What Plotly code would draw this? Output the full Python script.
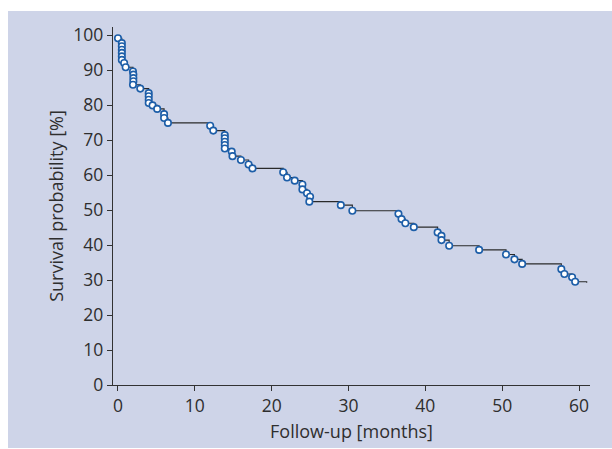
import plotly.graph_objects as go

# Kaplan-Meier style survival curve
months = [0.0, 0.5, 0.5, 0.5, 0.5, 0.5, 0.5, 0.8, 1.0,
          1.95, 2.0, 2.0, 2.0, 1.95, 2.9,
          4.0, 4.0, 4.0, 4.0, 4.5, 5.1, 6.0, 6.0, 6.5,
          12.0, 12.4, 13.9, 13.9, 13.9, 13.9, 13.9, 14.8, 14.9, 16.0, 17.0, 17.5,
          21.5, 22.0, 23.0, 24.0, 24.0, 24.6, 25.0, 24.9,
          29.0, 30.5,
          36.5, 36.9, 37.4, 38.5,
          41.6, 42.1, 42.1, 43.1,
          47.0, 50.5, 51.6, 52.6,
          57.7, 58.1, 59.1, 59.5]
survival = [99.1, 97.7, 96.8, 95.8, 94.9, 93.9, 92.9, 92.0, 90.8,
            89.6, 88.7, 87.7, 86.8, 85.8, 84.7,
            83.4, 82.5, 81.5, 80.6, 79.9, 78.9, 77.4, 76.3, 74.9,
            74.1, 72.7, 71.4, 70.5, 69.5, 68.6, 67.6, 66.7, 65.4, 64.3, 63.0, 61.9,
            60.8, 59.3, 58.4, 57.3, 55.9, 54.8, 53.8, 52.4,
            51.4, 49.8,
            48.9, 47.4, 46.2, 45.1,
            43.6, 42.6, 41.4, 39.8,
            38.6, 37.3, 35.9, 34.6,
            33.1, 31.7, 30.8, 29.5]
end_month = 61.0
end_survival = 29.2

x_ticks = [0, 10, 20, 30, 40, 50, 60]
y_ticks = [0, 10, 20, 30, 40, 50, 60, 70, 80, 90, 100]

x_title = "Follow-up [months]"
y_title = "Survival probability [%]"

fig = go.Figure()
fig.add_trace(go.Scatter(
    x=months + [end_month], y=survival + [end_survival],
    mode="lines", line=dict(color="#2a2a2a", width=1.1, shape="hv"),
    hoverinfo="skip", showlegend=False))
fig.add_trace(go.Scatter(
    x=months, y=survival, mode="markers",
    marker=dict(symbol="circle", size=6.5, color="white",
                line=dict(color="#1d5ea8", width=1.6)),
    showlegend=False))

# lavender panel behind the plot area
L, R, T, B = 113, 22, 27, 64
W, H = 612, 449
pw, ph = W - L - R, H - T - B
fig.add_shape(type="rect", xref="paper", yref="paper", layer="below",
              x0=(8 - L) / pw, x1=(612 - L) / pw,
              y0=(ph + T - 448) / ph, y1=(ph + T - 11) / ph,
              fillcolor="#ced4e8", line=dict(width=0))

font_col = "#2e2e2e"
axis_common = dict(showgrid=False, zeroline=False, showline=True,
                   linecolor="#333333", linewidth=1.3, ticks="outside",
                   ticklen=5, tickwidth=1.2, tickcolor="#333333",
                   automargin=False,
                   tickfont=dict(family="Open Sans", size=17.5, color=font_col))

fig.update_xaxes(range=[-0.65, 61.43], tickvals=x_ticks,
                 title=dict(text=x_title, standoff=9,
                            font=dict(family="Open Sans", size=18, color=font_col)),
                 **axis_common)
fig.update_yaxes(range=[0, 102.3], tickvals=y_ticks,
                 title=dict(text=y_title, standoff=5,
                            font=dict(family="Open Sans", size=18, color=font_col)),
                 **axis_common)

fig.update_layout(width=W, height=H,
                  margin=dict(l=L, r=R, t=T, b=B, pad=0, autoexpand=False),
                  paper_bgcolor="white", plot_bgcolor="white")

fig.write_html("out.html")
